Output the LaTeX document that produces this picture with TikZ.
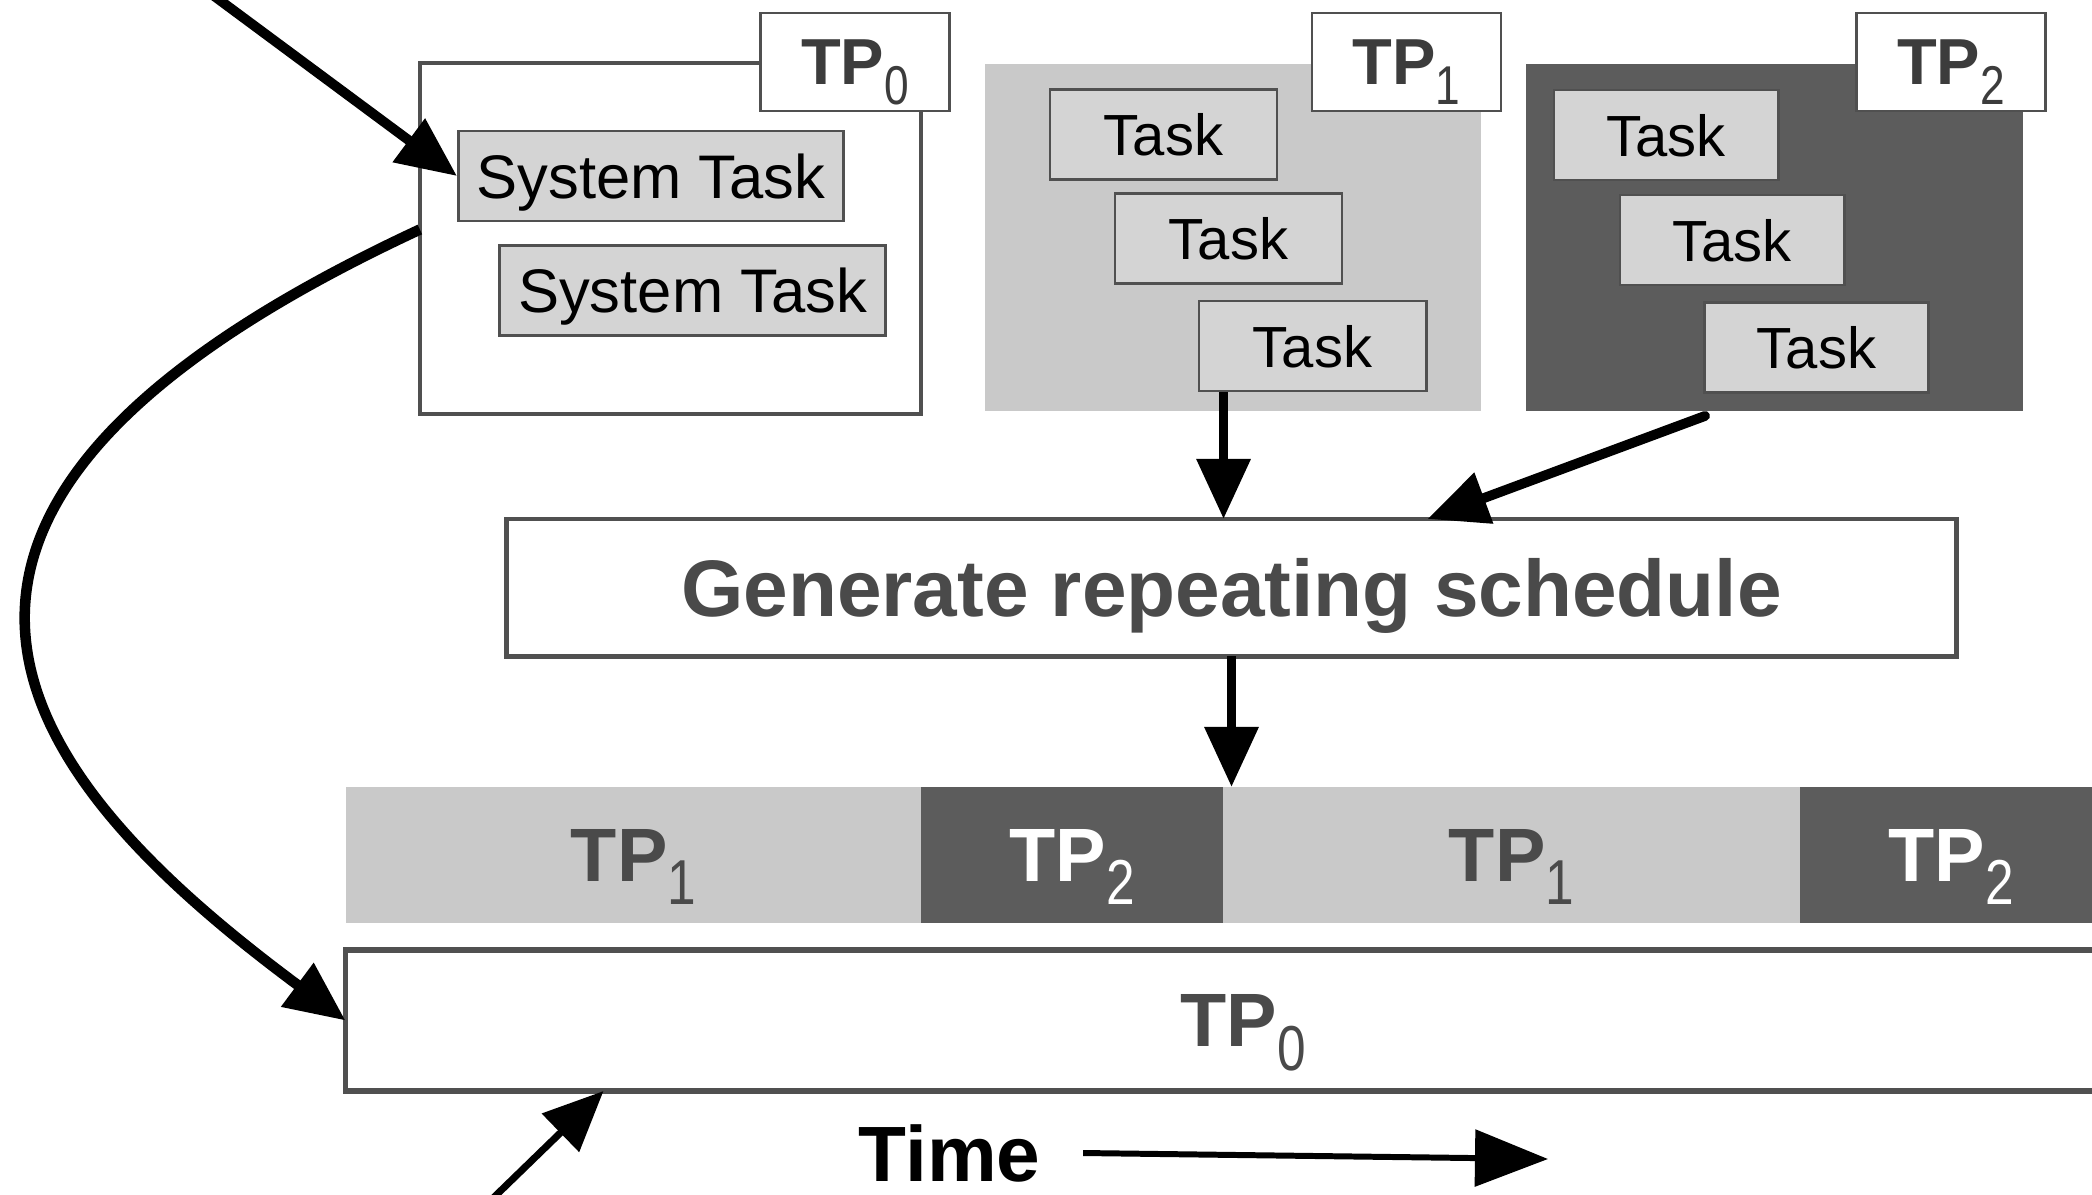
\documentclass[tikz,border=0pt]{standalone}
\usepackage{fontspec}
\setmainfont{Liberation Sans}
\usetikzlibrary{arrows.meta,calc}
\definecolor{lightreg}{HTML}{C9C9C9}
\definecolor{taskfill}{HTML}{D4D4D4}
\definecolor{darkreg}{HTML}{5C5C5C}
\definecolor{bordergray}{HTML}{505050}
\definecolor{labtext}{HTML}{3C3C3C}
\definecolor{segtext}{HTML}{4A4A4A}
\newcommand\tpl[1]{TP\raisebox{-0.6ex}{\fontseries{m}\selectfont\scalebox{0.68}[0.84]{#1}}}
\begin{document}
\begin{tikzpicture}[x=0.01cm,y=-0.01cm,
  region/.style={inner sep=0pt, outer sep=0pt},
  lab/.style={draw=bordergray, line width=0.7pt, fill=white, inner sep=0pt,
    minimum width=1.89cm, minimum height=0.98cm, text=labtext, text depth=0pt,
    font=\fontsize{18.5}{18.5}\selectfont\bfseries},
  stask/.style={draw=bordergray, line width=0.8pt, fill=taskfill, inner sep=0pt,
    minimum width=3.85cm, minimum height=0.9cm, text depth=0pt,
    font=\fontsize{17.5}{17.5}\selectfont},
  taskbox/.style={stask, minimum width=2.25cm, font=\fontsize{16.5}{16.5}\selectfont},
  seg/.style={inner sep=0pt, outer sep=0pt, minimum height=1.36cm, text depth=0pt,
    font=\fontsize{21.5}{21.5}\selectfont\bfseries},
  arr/.style={line width=2.8pt, -{Triangle[length=0.6cm,width=0.52cm]}},
]
\path[use as bounding box, clip] (0,0) rectangle (2092,1194);

% --- top: partitions ---
\node[region, draw=bordergray, line width=1.3pt, fill=white, minimum width=5.01cm, minimum height=3.51cm] (sysbox) at (670.5,238.5) {};
\node[region, fill=lightreg, minimum width=4.96cm, minimum height=3.47cm] (tp1reg) at (1233,237.5) {};
\node[region, fill=darkreg, minimum width=4.97cm, minimum height=3.47cm] (tp2reg) at (1774.5,237.5) {};

\node[lab] (tp0lab) at (855,62) {\tpl{0}};
\node[lab] (tp1lab) at (1406.5,62) {\tpl{1}};
\node[lab] (tp2lab) at (1951,62) {\tpl{2}};

\node[stask] (st1) at (651,176) {System Task};
\node[stask] (st2) at (692.5,290.5) {System Task};

\node[taskbox, minimum width=2.27cm] (t11) at (1163.5,134.5) {Task};
\node[taskbox, minimum width=2.27cm] (t12) at (1228.5,238.5) {Task};
\node[taskbox, minimum width=2.27cm] (t13) at (1312.5,346) {Task};

\node[taskbox, minimum width=2.24cm] (t21) at (1666,135) {Task};
\node[taskbox, minimum width=2.24cm] (t22) at (1732,240) {Task};
\node[taskbox, minimum width=2.24cm] (t23) at (1816.5,347.5) {Task};

% --- generate box ---
\node[region, draw=bordergray, line width=1.4pt, fill=white, minimum width=14.49cm, minimum height=1.37cm,
  text=segtext, text depth=0pt, font=\fontsize{22.8}{22.8}\selectfont\bfseries] (gen) at (1231.5,587.5) {Generate repeating schedule};

% --- timeline ---
\node[seg, fill=lightreg, minimum width=5.75cm, text=segtext] (seg1) at (633.5,855) {\tpl{1}};
\node[seg, fill=darkreg, minimum width=3.02cm, text=white] (seg2) at (1072,855) {\tpl{2}};
\node[seg, fill=lightreg, minimum width=5.77cm, text=segtext] (seg3) at (1511.5,855) {\tpl{1}};
\node[seg, fill=darkreg, minimum width=3.02cm, text=white] (seg4) at (1951,855) {\tpl{2}};

\node[seg, draw=bordergray, line width=1.5pt, fill=white, minimum width=17.94cm, minimum height=1.41cm, text=segtext] (tp0bar) at (1243,1020.5) {\tpl{0}};

\node[inner sep=0pt, text depth=0pt, font=\fontsize{22.3}{22.3}\selectfont\bfseries] (time) at (949.5,1153) {Time};

% --- free ends ---
\coordinate (in1) at (206,-10);
\coordinate (in2) at (487,1204);
\coordinate (timeend) at (1548,1159);
\coordinate (a3s) at ($(t13.south west)+(26,0)$);
\coordinate (a3e) at (a3s |- gen.north);
\coordinate (a4s) at ($(t23.south west)+(2,22)$);
\coordinate (a4e) at ($(gen.north west)+(921,0)$);
\coordinate (a5e) at (gen.south |- seg3.north);
\coordinate (a6e) at ($(tp0bar.south west)+(258,0)$);

% --- connectors ---
\draw[arr] (in1) -- (st1.west);
\draw[arr, line width=3pt] ([yshift=0.09cm]sysbox.west) .. controls (-205,520) and (35,790) .. (tp0bar.west);
\draw[arr] (a3s) -- (a3e);
\draw[arr, line cap=round] (a4s) -- (a4e);
\draw[arr] (gen.south) -- (a5e);
\draw[arr, line width=2pt] (in2) -- (a6e);
\draw[line width=1.7pt, -{Triangle[length=0.73cm,width=0.56cm]}] ([xshift=0.42cm]time.east) -- (timeend);
\end{tikzpicture}
\end{document}
